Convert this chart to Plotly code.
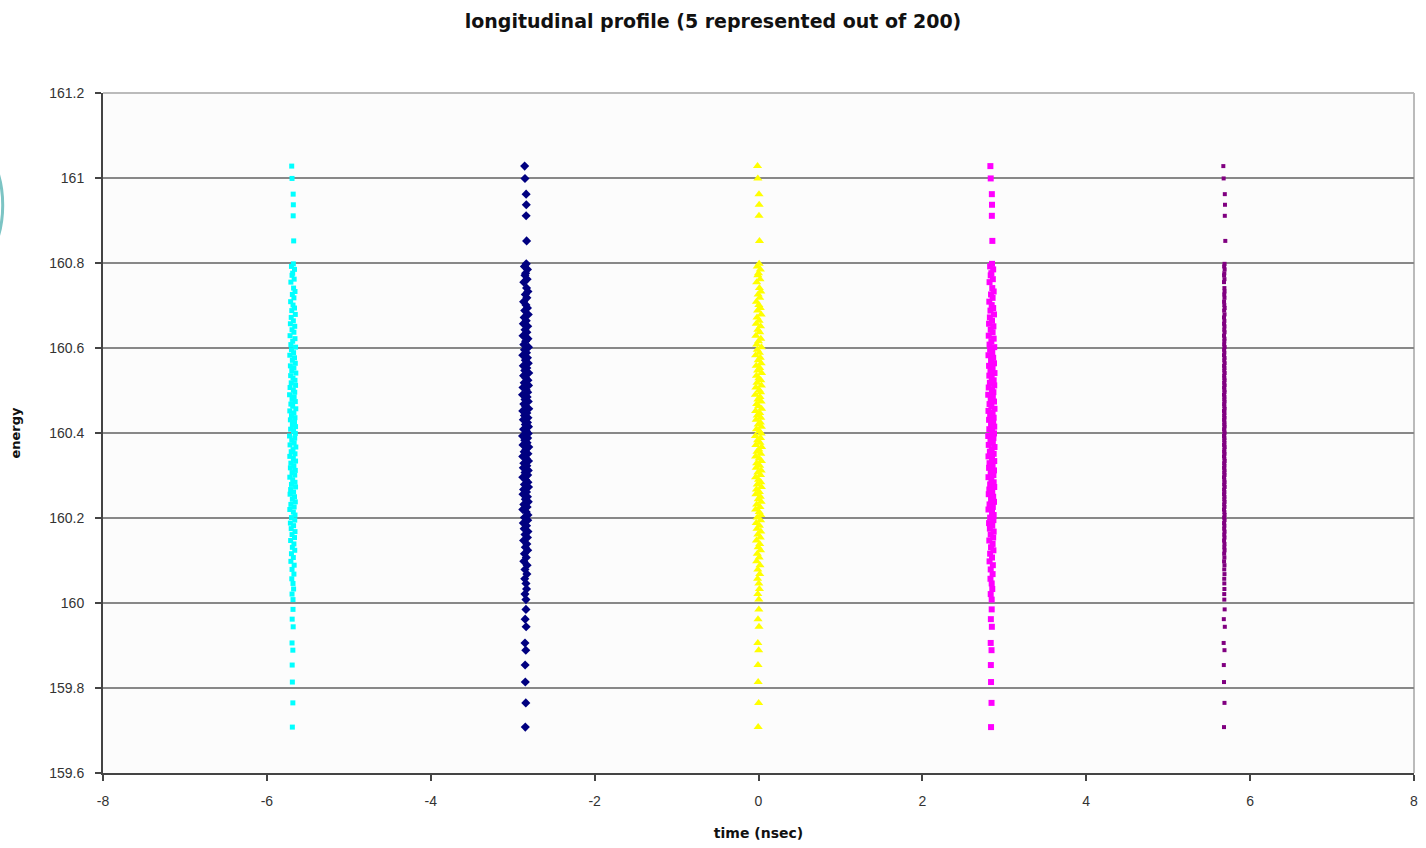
import plotly.graph_objects as go

# ---------------- data ----------------
BUNCH_NAMES = ["bunch 1", "bunch 2", "bunch 3", "bunch 4", "bunch 5"]
BUNCH_CENTERS = [-5.685, -2.842, 0.0, 2.842, 5.685]   # ns

# core of the energy distribution (same slice energies for every bunch)
CORE_ENERGY = [
    160.798, 160.792, 160.785, 160.776, 160.771, 160.762, 160.755, 160.741, 160.733, 160.726,
    160.718, 160.709, 160.701, 160.694, 160.688, 160.679, 160.672, 160.664, 160.657, 160.651,
    160.643, 160.637, 160.629, 160.622, 160.616, 160.608, 160.602, 160.596, 160.589, 160.583,
    160.577, 160.571, 160.564, 160.558, 160.553, 160.547, 160.541, 160.535, 160.529, 160.524,
    160.518, 160.512, 160.507, 160.501, 160.496, 160.490, 160.485, 160.479, 160.474, 160.468,
    160.463, 160.457, 160.452, 160.447, 160.441, 160.436, 160.431, 160.425, 160.420, 160.415,
    160.409, 160.404, 160.399, 160.393, 160.388, 160.383, 160.377, 160.372, 160.367, 160.361,
    160.356, 160.351, 160.345, 160.340, 160.334, 160.329, 160.323, 160.318, 160.312, 160.307,
    160.301, 160.296, 160.290, 160.284, 160.279, 160.273, 160.267, 160.261, 160.256, 160.250,
    160.244, 160.238, 160.232, 160.226, 160.220, 160.214, 160.207, 160.201, 160.195, 160.188,
    160.182, 160.175, 160.168, 160.161, 160.154, 160.147, 160.139, 160.131, 160.124, 160.116,
    160.107, 160.098, 160.089, 160.079, 160.068, 160.057, 160.046, 160.033, 160.021, 160.008,
]

# time offsets (ns) from the bunch centre for the core particles
CORE_DT = [
    0.008, -0.015, 0.022, 0.000, -0.008, 0.018, -0.022, 0.011, 0.028, -0.004,
    0.015, -0.025, 0.004, 0.022, -0.011, 0.032, -0.018, 0.008, -0.028, 0.025,
    -0.008, 0.015, -0.032, 0.028, 0.000, -0.022, 0.035, -0.015, 0.011, -0.035,
    0.022, -0.004, 0.032, -0.028, 0.015, -0.011, 0.038, -0.025, 0.004, 0.028,
    -0.018, 0.035, -0.032, 0.008, 0.025, -0.038, 0.018, -0.008, 0.032, -0.022,
    0.000, 0.038, -0.035, 0.015, -0.015, 0.028, -0.028, 0.022, -0.004, 0.035,
    -0.025, 0.011, 0.032, -0.038, 0.025, -0.011, 0.018, -0.032, 0.038, 0.004,
    -0.018, 0.028, -0.035, 0.008, 0.035, -0.022, 0.015, -0.028, 0.032, -0.008,
    0.025, -0.035, 0.000, 0.028, -0.015, 0.035, -0.025, 0.011, -0.032, 0.022,
    -0.004, 0.032, -0.022, 0.018, -0.035, 0.008, 0.028, -0.015, 0.025, -0.028,
    0.011, -0.018, 0.028, -0.008, 0.022, -0.025, 0.015, -0.004, 0.025, -0.015,
    0.008, -0.022, 0.018, -0.008, 0.015, -0.011, 0.004, 0.011, -0.008, 0.004,
]

# the last bunch is much narrower in time
NARROW_DT = [
    0.003, -0.002, 0.004, 0.000, -0.003, 0.002, -0.004, 0.001, 0.003, -0.001,
    0.002, -0.003, 0.000, 0.004, -0.002, 0.003, -0.004, 0.001, -0.003, 0.002,
    -0.001, 0.003, -0.004, 0.002, 0.000, -0.002, 0.004, -0.003, 0.001, -0.004,
    0.003, -0.001, 0.004, -0.003, 0.002, -0.001, 0.004, -0.002, 0.000, 0.003,
    -0.002, 0.004, -0.003, 0.001, 0.003, -0.004, 0.002, -0.001, 0.003, -0.002,
    0.000, 0.004, -0.004, 0.002, -0.002, 0.003, -0.003, 0.002, -0.001, 0.004,
    -0.003, 0.001, 0.003, -0.004, 0.002, -0.001, 0.002, -0.003, 0.004, 0.000,
    -0.002, 0.003, -0.004, 0.001, 0.004, -0.002, 0.002, -0.003, 0.003, -0.001,
    0.003, -0.004, 0.000, 0.003, -0.002, 0.004, -0.003, 0.001, -0.003, 0.002,
    -0.001, 0.003, -0.002, 0.002, -0.004, 0.001, 0.003, -0.002, 0.003, -0.003,
    0.001, -0.002, 0.003, -0.001, 0.002, -0.003, 0.002, 0.000, 0.003, -0.002,
    0.001, -0.003, 0.002, -0.001, 0.002, -0.001, 0.000, 0.001, -0.001, 0.000,
]

# halo particles (isolated points above and below the core)
HALO_ENERGY = [161.028, 160.999, 160.962, 160.937, 160.911, 160.852,
               159.985, 159.962, 159.944, 159.906, 159.889, 159.854,
               159.814, 159.765, 159.708]
HALO_DT = [-0.012, -0.008, 0.006, 0.008, 0.006, 0.012,
           0.004, -0.006, 0.006, -0.008, 0.002, -0.006,
           -0.004, 0.002, -0.004]

BUNCH_COLORS = ["#00FFFF", "#000080", "#FFFF00", "#FF00FF", "#800080"]
BUNCH_SYMBOLS = ["square", "diamond", "triangle-up", "square", "square"]
BUNCH_SIZES = [5, 7, 8, 6, 4]

X_TICKS = [-8, -6, -4, -2, 0, 2, 4, 6, 8]
Y_TICKS = [159.6, 159.8, 160, 160.2, 160.4, 160.6, 160.8, 161, 161.2]
Y_TICK_TEXT = ["159.6", "159.8", "160", "160.2", "160.4", "160.6", "160.8", "161", "161.2"]

# ---------------- figure ----------------
fig = go.Figure()
energies = HALO_ENERGY + CORE_ENERGY
for i, name in enumerate(BUNCH_NAMES):
    dts = HALO_DT + (NARROW_DT if i == 4 else CORE_DT)
    xs = [BUNCH_CENTERS[i] + d for d in dts]
    fig.add_trace(go.Scatter(
        x=xs, y=energies, mode="markers", name=name,
        marker=dict(color=BUNCH_COLORS[i], symbol=BUNCH_SYMBOLS[i],
                    size=BUNCH_SIZES[i], line=dict(width=0)),
        showlegend=False,
    ))

font_family = "Liberation Sans, Arial, sans-serif"
title_family = "DejaVu Sans, Verdana, sans-serif"

fig.update_layout(
    width=1426, height=848,
    margin=dict(l=103, r=8, t=93, b=75),
    paper_bgcolor="white",
    plot_bgcolor="#FCFCFC",
    font=dict(family=font_family, size=14, color="#333333"),
    title=dict(text="<b>longitudinal profile (5 represented out of 200)</b>",
               x=0.5, xanchor="center", y=0.975, yanchor="middle",
               font=dict(family=title_family, size=19, color="#111111")),
    xaxis=dict(
        range=[-8, 8], tickvals=X_TICKS, ticktext=[str(v) for v in X_TICKS],
        showgrid=False, zeroline=False,
        showline=True, linecolor="#444444", linewidth=2,
        ticks="outside", ticklen=6, tickwidth=2, tickcolor="#444444",
        ticklabelstandoff=8,
        tickfont=dict(size=14, color="#333333"),
        title=dict(text="<b>time (nsec)</b>", standoff=20,
                   font=dict(family=title_family, size=14, color="#111111")),
    ),
    yaxis=dict(
        range=[159.6, 161.2], tickvals=Y_TICKS, ticktext=Y_TICK_TEXT,
        showgrid=True, gridcolor="#888888", gridwidth=2, zeroline=False,
        showline=True, linecolor="#444444", linewidth=2,
        ticks="outside", ticklen=6, tickwidth=2, tickcolor="#444444",
        ticklabelstandoff=8,
        tickfont=dict(size=14, color="#333333"),
        title=dict(text="<b>energy</b>", standoff=26,
                   font=dict(family=title_family, size=13, color="#111111")),
    ),
    shapes=[
        # light top / right frame of the plot area
        dict(type="line", xref="paper", yref="paper", x0=0, x1=1, y0=1, y1=1,
             line=dict(color="#BBBBBB", width=2), layer="below"),
        dict(type="line", xref="paper", yref="paper", x0=1, x1=1, y0=0, y1=1,
             line=dict(color="#BBBBBB", width=2), layer="below"),
        # teal arc at the left page border
        dict(type="circle", xref="paper", yref="paper",
             x0=-0.16, x1=-0.0765, y0=0.72, y1=0.95,
             line=dict(color="#7CC4C4", width=3), layer="above"),
    ],
)

fig.write_html("out.html")
